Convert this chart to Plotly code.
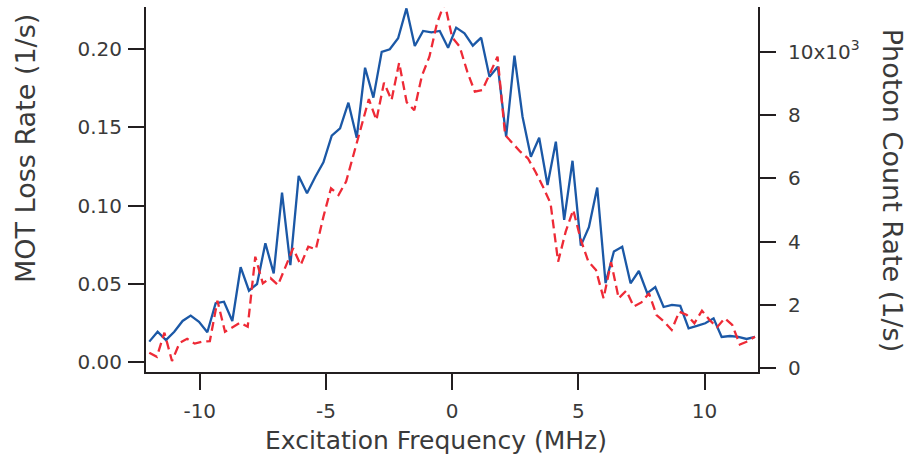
import plotly.graph_objects as go

# Excitation frequency grids (MHz)
freq_loss = [-12.00, -11.67, -11.34, -11.01, -10.68, -10.36, -10.03, -9.70, -9.37, -9.04,
             -8.71, -8.38, -8.05, -7.73, -7.40, -7.07, -6.74, -6.41, -6.08, -5.75,
             -5.42, -5.10, -4.77, -4.44, -4.11, -3.78, -3.45, -3.12, -2.79, -2.47,
             -2.14, -1.81, -1.48, -1.15, -0.82, -0.49, -0.16, 0.16, 0.49, 0.82,
             1.15, 1.48, 1.81, 2.14, 2.47, 2.79, 3.12, 3.45, 3.78, 4.11,
             4.44, 4.77, 5.10, 5.42, 5.75, 6.08, 6.41, 6.74, 7.07, 7.40,
             7.73, 8.05, 8.38, 8.71, 9.04, 9.37, 9.70, 10.03, 10.36, 10.68,
             11.01, 11.34, 11.67, 12.00]

mot_loss_rate = [0.0132, 0.0195, 0.0142, 0.0195, 0.0264, 0.0298, 0.0259, 0.0192, 0.0377, 0.0387,
                 0.0264, 0.0607, 0.0457, 0.0500, 0.0760, 0.0568, 0.1083, 0.0621, 0.1190, 0.1080,
                 0.1185, 0.1277, 0.1447, 0.1494, 0.1658, 0.1434, 0.1881, 0.1690, 0.1983, 0.1999,
                 0.2069, 0.2260, 0.2020, 0.2116, 0.2107, 0.2116, 0.2009, 0.2137, 0.2101, 0.2022,
                 0.2073, 0.1824, 0.1888, 0.1441, 0.1958, 0.1568, 0.1313, 0.1434, 0.1132, 0.1409,
                 0.0909, 0.1287, 0.0745, 0.0863, 0.1116, 0.0506, 0.0708, 0.0738, 0.0504, 0.0583,
                 0.0441, 0.0481, 0.0353, 0.0366, 0.0360, 0.0217, 0.0232, 0.0249, 0.0281, 0.0162,
                 0.0168, 0.0163, 0.0149, 0.0162]

freq_photon = [-12.0, -11.7, -11.4, -11.1, -10.8, -10.5, -10.2, -9.9, -9.6, -9.3,
               -9.0, -8.7, -8.4, -8.1, -7.8, -7.5, -7.2, -6.9, -6.6, -6.3,
               -6.0, -5.7, -5.4, -5.1, -4.8, -4.5, -4.2, -3.9, -3.6, -3.3,
               -3.0, -2.7, -2.4, -2.1, -1.8, -1.5, -1.2, -0.9, -0.6, -0.3,
               0.0, 0.3, 0.6, 0.9, 1.2, 1.5, 1.8, 2.1, 2.4, 2.7,
               3.0, 3.3, 3.6, 3.9, 4.2, 4.5, 4.8, 5.1, 5.4, 5.7,
               6.0, 6.3, 6.6, 6.9, 7.2, 7.5, 7.8, 8.1, 8.4, 8.7,
               9.0, 9.3, 9.6, 9.9, 10.2, 10.5, 10.8, 11.1, 11.4, 11.7,
               12.0]

photon_count_rate = [493, 366, 1124, 230, 800, 930, 780, 840, 860, 2135,
                     1156, 1300, 1440, 1314, 3524, 2684, 2850, 2630, 3200, 3790,
                     3262, 3840, 3760, 4788, 5684, 5473, 5900, 6740, 7650, 8500,
                     7841, 9020, 8473, 9650, 8400, 8150, 9231, 9840, 10895, 11550,
                     10453, 10156, 9367, 8735, 8789, 9316, 9840, 7368, 7105, 6840,
                     6632, 6209, 5735, 5210, 3367, 4314, 5000, 4052, 3367, 3104,
                     2210, 3350, 2210, 2450, 1950, 2080, 2368, 1683, 1472, 1210,
                     1787, 1683, 1420, 1820, 1525, 1300, 1579, 1367, 750, 850,
                     998]

x_tickvals = [-10, -5, 0, 5, 10]
x_ticktext = ["-10", "-5", "0", "5", "10"]
y_tickvals = [0.00, 0.05, 0.10, 0.15, 0.20]
y_ticktext = ["0.00", "0.05", "0.10", "0.15", "0.20"]
y2_tickvals = [0, 2000, 4000, 6000, 8000, 10000]
y2_ticktext = ["0", "2", "4", "6", "8", "10x10<sup>3</sup>"]

x_title = "Excitation Frequency (MHz)"
y_title = "MOT Loss Rate (1/s)"
y2_title = "Photon Count Rate (1/s)"

FONT = "DejaVu Sans"
TXT = "#3a3a3a"
AX = "#231f20"

fig = go.Figure()
fig.add_trace(go.Scatter(x=freq_loss, y=mot_loss_rate, mode="lines",
                         line=dict(color="#1b58a6", width=2.3), yaxis="y"))
fig.add_trace(go.Scatter(x=freq_photon, y=photon_count_rate, mode="lines",
                         line=dict(color="#ee2a36", width=2.3, dash="9px,5px"), yaxis="y2"))

axis_common = dict(showgrid=False, zeroline=False, showline=True, linecolor=AX, linewidth=2,
                   ticks="outside", ticklen=16, tickwidth=2, tickcolor=AX,
                   tickfont=dict(family=FONT, size=20, color=TXT))

fig.update_layout(
    width=908, height=458,
    margin=dict(l=146, r=150, t=7, b=86),
    paper_bgcolor="white", plot_bgcolor="white",
    showlegend=False,
    xaxis=dict(range=[-12.13, 12.12], tickmode="array", tickvals=x_tickvals, ticktext=x_ticktext,
               ticklabelstandoff=4, **axis_common),
    yaxis=dict(range=[-0.0062, 0.2269], tickmode="array", tickvals=y_tickvals, ticktext=y_ticktext,
               ticklabelstandoff=2, **axis_common),
    yaxis2=dict(range=[-117, 11410], overlaying="y", side="right", tickmode="array",
                tickvals=y2_tickvals, ticktext=y2_ticktext, ticklabelstandoff=8, **axis_common),
    annotations=[
        dict(text=x_title, xref="paper", yref="paper", x=0.474, y=-0.188, showarrow=False,
             xanchor="center", yanchor="middle", font=dict(family=FONT, size=25, color=TXT)),
        dict(text=y_title, xref="paper", yref="paper", x=-0.196, y=0.611, showarrow=False,
             textangle=-90, xanchor="center", yanchor="middle", font=dict(family=FONT, size=27, color=TXT)),
        dict(text=y2_title, xref="paper", yref="paper", x=1.219, y=0.499, showarrow=False,
             textangle=90, xanchor="center", yanchor="middle", font=dict(family=FONT, size=27, color=TXT)),
    ],
)

fig.write_html("out.html")
